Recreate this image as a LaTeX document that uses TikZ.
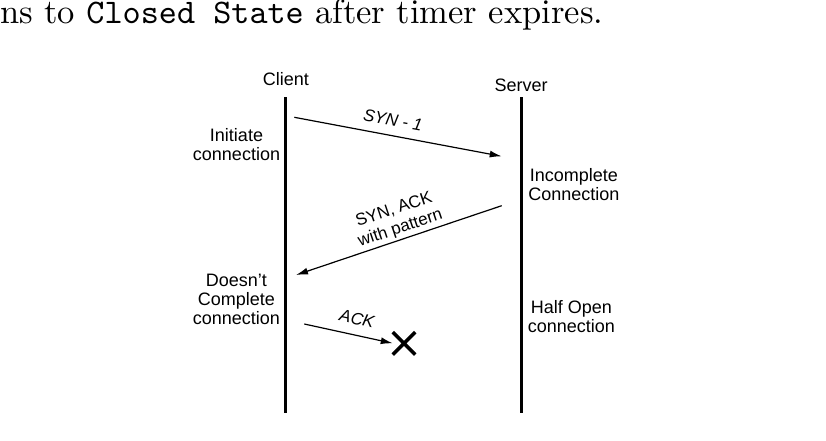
\documentclass[tikz,border=0pt]{standalone}
\usepackage{fontspec}
\newfontfamily\helv{Liberation Sans}
\usetikzlibrary{arrows.meta,shapes.misc}
\tikzset{
  lbl/.style={inner sep=0pt, font=\helv\fontsize{18}{19}\selectfont, align=center},
  msglbl/.style={inner sep=0pt, font=\helv\fontsize{17}{19.5}\selectfont, align=center},
  lifeline/.style={line width=3pt},
  msg/.style={line width=1.2pt, -{Latex[length=12pt,width=7pt]}},
}
\begin{document}
\begin{tikzpicture}[x=1pt,y=-1pt]
\useasboundingbox (0,0) rectangle (826,441);
% caption fragment
\node[anchor=base east, inner sep=0pt, scale=3.45] (cap) at (604,24)
  {\fontsize{10}{12}\selectfont ns to \texttt{Closed State} after timer expires.};
% participants
\node[lbl, anchor=base] (client) at (286,86) {Client};
\node[lbl, anchor=base] (server) at (521,92) {Server};
\coordinate (ctop) at (285.7,97.5);
\coordinate (cbot) at (285.7,412.5);
\coordinate (stop) at (521.5,97.5);
\coordinate (sbot) at (521.5,412.5);
\draw[lifeline] (ctop) -- (cbot);
\draw[lifeline] (stop) -- (sbot);
% state labels
\node[lbl, anchor=north] (init) at (236.5,128) {Initiate\\connection};
\node[lbl, anchor=north] (incomp) at (573.8,168.3) {Incomplete\\Connection};
\node[lbl, anchor=north] (doesnt) at (236.3,274.3) {Doesn’t\\Complete\\connection};
\node[lbl, anchor=north] (half) at (571.3,300.7) {Half Open\\connection};
% messages
\coordinate (m1a) at (294.3,117.3);
\coordinate (m1b) at (501.7,156.3);
\draw[msg] (m1a) -- (m1b);
\node[msglbl, rotate=-10.65] (m1l) at (392.9,120) {\itshape SYN - 1};
\coordinate (m2a) at (501.7,205.7);
\coordinate (m2b) at (296,275);
\draw[msg] (m2a) -- (m2b);
\node[msglbl, rotate=18.6] (m2l) at (397.3,219.5) {SYN, ACK\\with pattern};
\coordinate (m3a) at (304.3,324);
\node[draw, cross out, line width=3.5pt, minimum size=19pt, inner sep=0pt] (lost) at (404,343.3) {};
\draw[msg] (m3a) -- (lost.west);
\node[msglbl, rotate=-12.45] (m3l) at (357,318.9) {\itshape ACK};
\end{tikzpicture}
\end{document}
